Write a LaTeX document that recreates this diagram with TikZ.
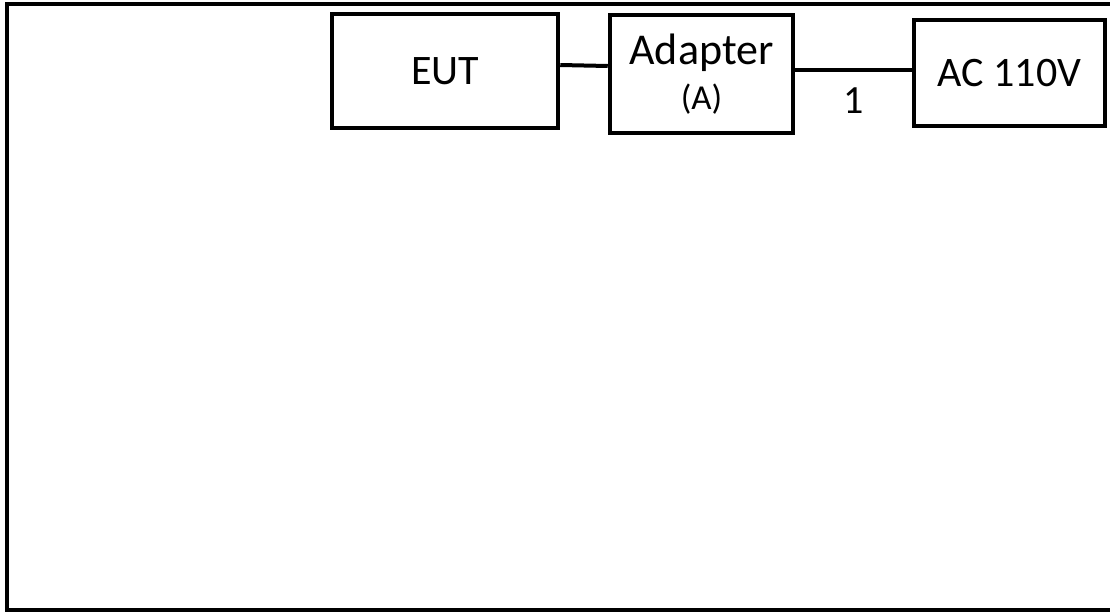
\documentclass[tikz,border=0pt]{standalone}
\usepackage{fontspec}
\setmainfont{Carlito}
\usetikzlibrary{positioning}

\begin{document}
\begin{tikzpicture}[x=1pt,y=-1pt,
  box/.style={draw,line width=4.5pt,inner sep=0pt,font=\fontsize{42}{51}\selectfont}]

\useasboundingbox (0,0) rectangle (1110,613);
\draw[line width=4pt] (1115,4) -- (6.5,4) -- (6.5,610) -- (1115,610);

\node[box,minimum width=226pt,minimum height=114pt] (EUT) at (445,71) {EUT};
\node[box,minimum width=183pt,minimum height=118pt,align=center] (Adapter) at (701.5,74)
  {{\fontsize{44}{44}\selectfont Adapter}\\[-6pt]{\fontsize{35}{35}\selectfont (A)}};
\node[box,minimum width=191pt,minimum height=106pt] (AC) at (1009.5,73) {AC 110V};

\draw[line width=4pt] ([yshift=6pt]EUT.east) -- ([yshift=8pt]Adapter.west);
\draw[line width=4pt] ([yshift=4pt]Adapter.east) -- node[below=12pt,font=\fontsize{40}{40}\selectfont] (one) {1} ([yshift=3pt]AC.west);

\end{tikzpicture}
\end{document}
